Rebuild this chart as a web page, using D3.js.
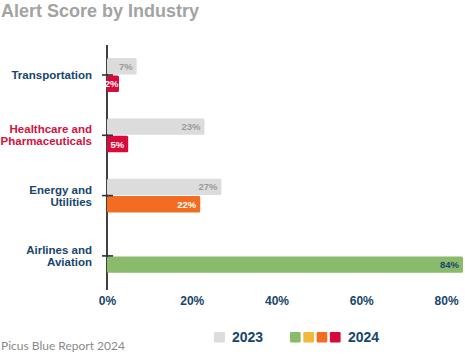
<!DOCTYPE html>
<html><head><meta charset="utf-8">
<script src="https://cdn.jsdelivr.net/npm/d3@7"></script>
<style>
html,body{margin:0;padding:0;background:#fff;}
svg{display:block;}
</style></head>
<body>
<script>
const categories = ["Transportation", "Healthcare and\nPharmaceuticals", "Energy and\nUtilities", "Airlines and\nAviation"];
const labelColors = ["#17456b", "#d3123e", "#17456b", "#17456b"];
const values2023 = [7, 23, 27, 0];
const values2024 = [2, 5, 22, 84];
const colors2024 = ["#d9093b", "#d9093b", "#f26d22", "#8aba6b"];
const xTicks = [0, 20, 40, 60, 80];
const legendColors2024 = ["#8aba6b", "#f1b83a", "#f26d22", "#d9093b"];

const W = 465, H = 355;
const navy = "#17456b";
const FONT = "Liberation Sans, Arial, sans-serif";
const svg = d3.select("body").append("svg").attr("width", W).attr("height", H);

svg.append("text").attr("x", 1).attr("y", 17)
  .attr("font-family", FONT).attr("font-weight", "bold")
  .attr("font-size", 18).attr("fill", "#a3a3a3").text("Alert Score by Industry");

const x = d3.scaleLinear().domain([0, 84]).range([107, 463]);
const y = d3.scaleBand().domain(categories).range([44.85, 286.05]).paddingInner(0.44).paddingOuter(0.22);
const sub = d3.scaleBand().domain(["2023", "2024"]).range([0, y.bandwidth()]).paddingInner(0.06);
const MINW = 12; // minimum bar width so the label fits

const rows = categories.map((c, i) => ({c, i, v23: values2023[i], v24: values2024[i]}));

// vertical axis line (drawn beneath the bars)
svg.append("line").attr("x1", x(0)).attr("x2", x(0)).attr("y1", 45).attr("y2", 290)
  .attr("stroke", "#111").attr("stroke-width", 1.6);

// category labels
rows.forEach(r => {
  const yc = y(r.c) + y.bandwidth() / 2;
  const lines = r.c.split("\n");
  const t = svg.append("text").attr("text-anchor", "end")
    .attr("font-family", FONT).attr("font-weight", "bold")
    .attr("font-size", 11.5).attr("fill", labelColors[r.i]);
  lines.forEach((ln, k) => {
    t.append("tspan").attr("x", 92)
      .attr("y", yc + 4 + (k - (lines.length - 1) / 2) * 12.2)
      .text(ln);
  });
});

const g = svg.append("g");
function bar(v, yy, fill, txtFill) {
  const w = Math.max(x(v) - x(0), MINW);
  g.append("rect").attr("x", x(0)).attr("y", yy)
    .attr("width", w).attr("height", sub.bandwidth())
    .attr("rx", 1.5).attr("fill", fill);
  g.append("text").attr("x", x(0) + w - (w > 20 ? 4 : 0.5))
    .attr("y", yy + sub.bandwidth() / 2 + 3.5)
    .attr("text-anchor", "end").attr("font-family", FONT)
    .attr("font-weight", "bold").attr("font-size", 9.5).attr("fill", txtFill)
    .text(v + "%");
}
rows.forEach(r => {
  const yc = y(r.c);
  if (r.v23 > 0) bar(r.v23, yc + sub("2023"), "#dcdcdc", "#9a9a9a");
  bar(r.v24, yc + sub("2024"), colors2024[r.i], r.v24 > 50 ? navy : "#ffffff");
});

// category ticks on top
rows.forEach(r => {
  const yc = y(r.c) + y.bandwidth() / 2;
  svg.append("line").attr("x1", x(0) - 5).attr("x2", x(0) + 6).attr("y1", yc).attr("y2", yc)
    .attr("stroke", "#333").attr("stroke-width", 1.6);
});

// x axis labels
const xAxis = d3.axisBottom(x).tickValues(xTicks).tickFormat(d => d + "%").tickSize(0).tickPadding(0);
const xa = svg.append("g").attr("transform", "translate(0,296)").call(xAxis);
xa.select(".domain").remove();
xa.selectAll("text").attr("font-family", FONT)
  .attr("font-weight", "bold").attr("font-size", 12).attr("fill", navy).attr("dy", "0.75em");

// legend
const lg = svg.append("g");
lg.append("rect").attr("x", 214).attr("y", 332).attr("width", 11).attr("height", 10.5).attr("rx", 1).attr("fill", "#dcdcdc");
lg.append("text").attr("x", 232).attr("y", 342.3).attr("font-family", FONT)
  .attr("font-weight", "bold").attr("font-size", 14).attr("fill", navy).text("2023");
legendColors2024.forEach((c, i) => {
  lg.append("rect").attr("x", 290 + i * 13.3).attr("y", 332).attr("width", 10.7).attr("height", 10.5).attr("rx", 1).attr("fill", c);
});
lg.append("text").attr("x", 348).attr("y", 342.3).attr("font-family", FONT)
  .attr("font-weight", "bold").attr("font-size", 14).attr("fill", navy).text("2024");

svg.append("text").attr("x", 1).attr("y", 350).attr("font-family", "Lato, sans-serif")
  .attr("font-size", 12).attr("fill", "#8a8a8a").text("Picus Blue Report 2024");
</script>
</body></html>
